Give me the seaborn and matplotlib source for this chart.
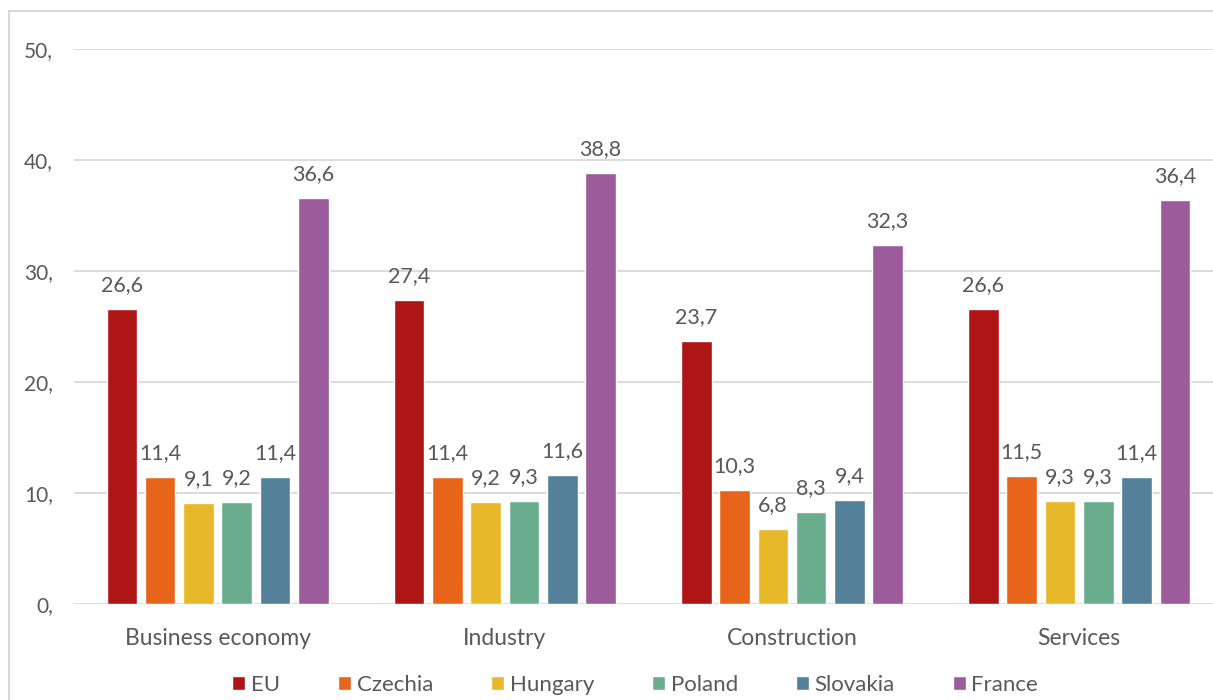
import matplotlib
matplotlib.use("Agg")
import matplotlib.pyplot as plt
import seaborn as sns
import pandas as pd
from matplotlib.patches import Rectangle

sectors = ["Business economy", "Industry", "Construction", "Services"]
countries = ["EU", "Czechia", "Hungary", "Poland", "Slovakia", "France"]
eu = [26.6, 27.4, 23.7, 26.6]
czechia = [11.4, 11.4, 10.3, 11.5]
hungary = [9.1, 9.2, 6.8, 9.3]
poland = [9.2, 9.3, 8.3, 9.3]
slovakia = [11.4, 11.6, 9.4, 11.4]
france = [36.6, 38.8, 32.3, 36.4]
y_ticks = [0, 10, 20, 30, 40, 50]
colors = ["#B01515", "#E8641A", "#E6B82A", "#6AAD8E", "#548199", "#9C5C9B"]

series = [eu, czechia, hungary, poland, slovakia, france]
rows = []
for country, vals in zip(countries, series):
    for sector, v in zip(sectors, vals):
        rows.append({"sector": sector, "country": country, "value": v})
df = pd.DataFrame(rows)

sns.set_theme(style="white")
plt.rcParams["font.family"] = ["Lato", "DejaVu Sans"]
text_color = "#595959"

fig = plt.figure(figsize=(12.13, 7.0), dpi=100)
ax = fig.add_axes([74 / 1213, 1 - 604 / 700, (1222.75 - 74) / 1213, (604 - 49) / 700])

sns.barplot(data=df, x="sector", y="value", hue="country", order=sectors,
            hue_order=countries, palette=colors, width=0.8, gap=0.2,
            saturation=1, legend=True, ax=ax)

for container, vals in zip(ax.containers, series):
    ax.bar_label(container, labels=[f"{v:.1f}".replace(".", ",") for v in vals],
                 padding=10, fontsize=15.5, color=text_color)

ax.set_xlim(-0.5, 3.5)
ax.set_ylim(0, 50)
ax.set_yticks(y_ticks)
ax.set_yticklabels([f"{t}," for t in y_ticks])
ax.grid(axis="y", color="#D9D9D9", linewidth=1.3)
ax.set_axisbelow(True)
for s in ax.spines.values():
    s.set_visible(False)
ax.tick_params(axis="y", length=0, pad=15, labelsize=15, labelcolor=text_color)
ax.tick_params(axis="x", length=0, pad=17, labelsize=16.5, labelcolor=text_color)
ax.set_xlabel("")
ax.set_ylabel("")

handles, labels = ax.get_legend_handles_labels()
ax.get_legend().remove()
fig.legend(handles, labels, loc="center", bbox_to_anchor=(635 / 1213, 1 - 685 / 700),
           ncol=6, frameon=False, fontsize=16, labelcolor=text_color,
           handlelength=0.6, handleheight=0.6, handletextpad=0.25, columnspacing=2.6)

fig.patches.append(Rectangle((9 / 1213, -0.1), 1.2, 1 - 11 / 700 + 0.1,
                             transform=fig.transFigure, fill=False,
                             edgecolor="#D9D9D9", linewidth=1.5, zorder=-1))

fig.savefig("out.png", dpi=100)
